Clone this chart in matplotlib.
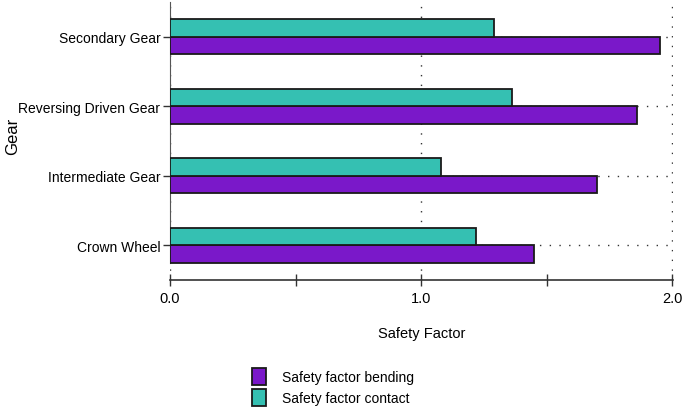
import matplotlib.pyplot as plt
import numpy as np

# ── Data ───────────────────────────────────────────────────────────────────
GEARS = ["Crown Wheel", "Intermediate Gear", "Reversing Driven Gear", "Secondary Gear"]
BENDING = [1.45, 1.70, 1.86, 1.95]
CONTACT = [1.22, 1.08, 1.36, 1.29]

BENDING_COLOR = "#7A18C9"
CONTACT_COLOR = "#35C0B2"
FONT = ["Liberation Sans", "DejaVu Sans"]


def main():
    fig = plt.figure(figsize=(6.85, 4.14), dpi=100)
    ax = fig.add_axes([170 / 685, 1 - 281 / 414, 503 / 685, 278 / 414])

    y = np.arange(len(GEARS))
    h = 0.25
    ax.barh(y - h / 2, BENDING, h, color=BENDING_COLOR, edgecolor="#1a1a1a",
            linewidth=1.3, label="Safety factor bending", zorder=3)
    ax.barh(y + h / 2, CONTACT, h, color=CONTACT_COLOR, edgecolor="#1a1a1a",
            linewidth=1.3, label="Safety factor contact", zorder=3)

    ax.set_xlim(0, 2.003)
    ax.set_ylim(-0.5, 3.5)
    ax.set_xticks([0, 1.0, 2.0])
    ax.set_xticks([0.5, 1.5], minor=True)
    ax.set_xticklabels(["0.0", "1.0", "2.0"], family=FONT, fontsize=10.5)
    ax.set_yticks(y)
    ax.set_yticklabels(GEARS, family=FONT, fontsize=10)

    ax.grid(True, which="major", color="#333333", linewidth=1,
            linestyle=(0, (1, 6)), zorder=0)

    ax.tick_params(axis="x", which="both", direction="inout", length=8,
                   width=1, pad=4, color="#333333")
    ax.tick_params(axis="y", direction="out", length=5, width=1, pad=2,
                   color="#333333")

    for side in ["top", "right"]:
        ax.spines[side].set_visible(False)
    ax.spines["left"].set_bounds(-0.25, 3.5)
    ax.spines["left"].set_color("#555555")
    ax.spines["bottom"].set_color("#333333")
    ax.spines["bottom"].set_linewidth(1.2)

    ax.set_xlabel("Safety Factor", family=FONT, fontsize=10.5, labelpad=15)
    ax.set_ylabel("Gear", family=FONT, fontsize=12)
    ax.yaxis.set_label_coords(-150 / 503, 0.52)

    handles, labels = ax.get_legend_handles_labels()
    fig.legend(handles, labels, loc="upper left",
               bbox_to_anchor=(245 / 685, 1 - 362 / 414), frameon=False,
               prop={"family": FONT, "size": 10}, handlelength=1.0,
               handleheight=1.5, handletextpad=1.2, labelspacing=0.3,
               borderpad=0)

    plt.savefig("out.png", dpi=100)


if __name__ == "__main__":
    main()
